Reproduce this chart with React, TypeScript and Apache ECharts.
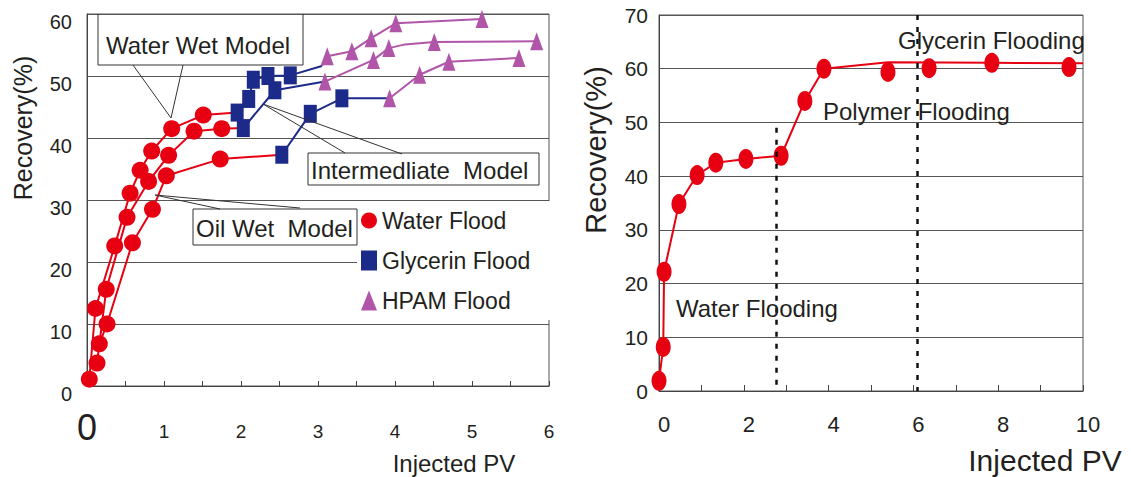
import React, { useEffect, useRef } from 'react';
import * as echarts from 'echarts';

const RED = '#e60012';
const BLUE = '#1c2a8a';
const PURPLE = '#b055a8';
const INK = '#231f20';
const FRAME = '#555555';
const FONT = 'Liberation Sans, Arial, sans-serif';

// ---------- left panel: [injected PV, recovery %] ----------
const waterWetWater = [[0.03, 1.1], [0.11, 12.5], [0.36, 22.6], [0.56, 31.1], [0.69, 34.8], [0.84, 37.9], [1.10, 41.5], [1.51, 43.7]];
const interWater = [[0.13, 3.7], [0.25, 15.6], [0.52, 27.2], [0.80, 33.0], [1.06, 37.2], [1.39, 41.1], [1.75, 41.5]];
const oilWater = [[0.16, 6.8], [0.26, 10.0], [0.59, 23.1], [0.85, 28.5], [1.03, 33.9], [1.73, 36.6]];

const waterWetGly = [[1.95, 44.1], [2.10, 46.3], [2.16, 49.4], [2.35, 50.0], [2.64, 50.1]];
const interGly = [[2.03, 41.6], [2.44, 47.7]];
const oilGly = [[2.53, 37.3], [2.90, 43.9], [3.31, 46.4]];

const waterWetHpam = [[3.12, 53.2], [3.44, 54.0], [3.69, 56.1], [4.01, 58.5], [5.13, 59.2]];
const interHpam = [[3.09, 49.1], [3.72, 52.6], [3.92, 54.5], [4.51, 55.5], [5.84, 55.6]];
const oilHpam = [[3.93, 46.4], [4.32, 50.2], [4.70, 52.3], [5.61, 52.9]];

// connecting points drawn without a marker
const waterWetGlyToHpam = [3.05, 51.6];
const interHpamBend = [4.13, 55.1];

const leftXTicks = [0, 1, 2, 3, 4, 5, 6];

// ---------- right panel ----------
const rightDots = [[0, 1.9], [0.1, 8.2], [0.12, 22.2], [0.47, 34.8], [0.9, 40.2], [1.34, 42.5], [2.05, 43.2], [2.88, 43.8], [3.44, 54.0], [3.89, 60.0], [5.4, 59.4], [6.37, 60.1], [7.85, 61.1], [9.67, 60.3]];
const rightLine = [[0, 1.9], [0.1, 8.2], [0.12, 22.2], [0.47, 34.8], [0.9, 40.2], [1.34, 42.5], [2.05, 43.2], [2.88, 43.8], [3.44, 54.0], [3.89, 60.0], [5.4, 61.2], [7.85, 61.1], [10, 61.0]];
const stageBounds = [2.76, 6.1];
const stageBoundTops = [49, 70];

const legendNames = ['Water Flood', 'Glycerin Flood', 'HPAM Flood'];

const hide = (p: number[]) => ({ value: p, symbol: 'none' });

function lineSeries(name: string, color: string, symbol: string, size: any, data: any[]) {
  return {
    type: 'line',
    name,
    xAxisIndex: 0,
    yAxisIndex: 0,
    data,
    symbol,
    symbolSize: size,
    itemStyle: { color },
    lineStyle: { color, width: 2 },
    z: symbol === 'circle' ? 3 : 4,
  };
}

const txt = (text: string, x: number, y: number, size: number, extra: any = {}) => ({
  type: 'text',
  x,
  y,
  z: 20,
  style: { text, fontSize: size, fontFamily: FONT, fill: INK, verticalAlign: 'middle', align: 'left', ...extra },
});
const stroke = { stroke: '#333', lineWidth: 1, fill: 'none' };

const option: any = {
  animation: false,
  backgroundColor: '#fff',
  textStyle: { fontFamily: FONT },
  grid: [
    { left: 87, top: 14, width: 462, height: 372, show: true, borderColor: FRAME, borderWidth: 1 },
    { left: 659, top: 15, width: 424, height: 376, show: true, borderColor: FRAME, borderWidth: 1 },
  ],
  xAxis: [
    {
      gridIndex: 0, type: 'value', min: 0, max: 6, interval: 0.5,
      axisLine: { lineStyle: { color: '#444' } },
      axisTick: { inside: true, length: 5, lineStyle: { color: '#444' } },
      splitLine: { show: false },
      axisLabel: {
        margin: 23, color: INK,
        formatter: (v: number) => (v === 0 ? '{big|0}' : leftXTicks.includes(v) ? `{n|${v}}` : ''),
        rich: {
          big: { fontSize: 36, color: INK, fontFamily: FONT },
          n: { fontSize: 19, color: INK, fontFamily: FONT, padding: [13, 0, 0, 0] },
        },
      },
    },
    {
      gridIndex: 1, type: 'value', min: 0, max: 10, interval: 1,
      axisLine: { lineStyle: { color: '#444' } },
      axisTick: { inside: true, length: 6, lineStyle: { color: '#444' } },
      splitLine: { show: false },
      axisLabel: {
        margin: 22, color: INK, fontSize: 22, padding: [0, 0, 0, 10],
        formatter: (v: number) => (v % 2 === 0 ? String(v) : ''),
      },
    },
  ],
  yAxis: [
    {
      gridIndex: 0, type: 'value', min: 0, max: 60, interval: 10,
      axisLine: { show: true, lineStyle: { color: '#444' } },
      axisTick: { show: false },
      splitLine: { lineStyle: { color: FRAME, width: 1 } },
      axisLabel: { margin: 15, fontSize: 20, color: INK, verticalAlign: 'top', lineHeight: 16 },
    },
    {
      gridIndex: 1, type: 'value', min: 0, max: 70, interval: 10,
      axisLine: { show: true, lineStyle: { color: '#444' } },
      axisTick: { show: false },
      splitLine: { lineStyle: { color: FRAME, width: 1 } },
      axisLabel: { margin: 11, fontSize: 21, color: INK },
    },
  ],
  legend: {
    data: [
      { name: legendNames[0], icon: 'circle' },
      { name: legendNames[1], icon: 'rect' },
      { name: legendNames[2], icon: 'triangle' },
    ],
    orient: 'vertical',
    left: 357,
    top: 201,
    itemWidth: 16,
    itemHeight: 20,
    itemGap: 17,
    padding: [8, 36, 8, 4],
    backgroundColor: '#fff',
    selectedMode: false,
    textStyle: { fontSize: 23, color: INK, fontFamily: FONT },
  },
  series: [
    lineSeries(legendNames[0], RED, 'circle', 17, [...waterWetWater, hide(waterWetGly[0])]),
    lineSeries(legendNames[0], RED, 'circle', 17, [...interWater, hide(interGly[0])]),
    lineSeries(legendNames[0], RED, 'circle', 17, [...oilWater, hide(oilGly[0])]),
    lineSeries(legendNames[1], BLUE, 'rect', [13, 18], [...waterWetGly, hide(waterWetGlyToHpam)]),
    lineSeries(legendNames[1], BLUE, 'rect', [13, 18], [...interGly, hide(interHpam[0])]),
    lineSeries(legendNames[1], BLUE, 'rect', [13, 18], [...oilGly, hide(oilHpam[0])]),
    lineSeries(legendNames[2], PURPLE, 'triangle', [13, 18], [hide(waterWetGlyToHpam), ...waterWetHpam]),
    lineSeries(legendNames[2], PURPLE, 'triangle', [13, 18], [...interHpam.slice(0, 3), hide(interHpamBend), ...interHpam.slice(3)]),
    lineSeries(legendNames[2], PURPLE, 'triangle', [13, 18], oilHpam),
    {
      type: 'line',
      name: 'Recovery curve',
      xAxisIndex: 1,
      yAxisIndex: 1,
      data: rightLine,
      symbol: 'none',
      lineStyle: { color: RED, width: 2 },
      itemStyle: { color: RED },
      z: 3,
      markLine: {
        silent: true,
        symbol: 'none',
        label: { show: false },
        lineStyle: { color: '#111', width: 2.5, type: [5, 7] },
        data: stageBounds.map((x, i) => [{ coord: [x, stageBoundTops[i]] }, { coord: [x, 0] }]),
      },
    },
    {
      type: 'scatter',
      name: 'Recovery points',
      xAxisIndex: 1,
      yAxisIndex: 1,
      data: rightDots,
      symbol: 'circle',
      symbolSize: [15, 20],
      itemStyle: { color: RED, opacity: 1 },
      z: 4,
    },
  ],
  graphic: [
    { ...txt('Recovery(%)', 0, 0, 25, { align: 'center' }), x: 23, y: 128, rotation: Math.PI / 2 },
    txt('Injected PV', 454, 463, 24, { align: 'center' }),
    { type: 'polyline', z: 20, shape: { points: [[98, 14], [98, 65], [303, 65], [303, 14]] }, style: stroke },
    { type: 'polyline', z: 20, shape: { points: [[133, 65], [171, 118], [183, 65]] }, style: stroke },
    txt('Water Wet Model', 106, 45, 24),
    { type: 'rect', z: 19, shape: { x: 308, y: 153, width: 231, height: 32 }, style: { fill: '#fff', stroke: '#333', lineWidth: 1 } },
    { type: 'polyline', z: 20, shape: { points: [[345, 153], [263, 104], [402, 154]] }, style: stroke },
    txt('Intermedliate  Model', 311, 170, 24),
    { type: 'rect', z: 19, shape: { x: 193, y: 209, width: 164, height: 36 }, style: { fill: '#fff', stroke: '#333', lineWidth: 1 } },
    { type: 'polyline', z: 20, shape: { points: [[220, 209], [155, 195], [300, 208]] }, style: stroke },
    txt('Oil Wet  Model', 196, 228, 24),
    { ...txt('Recovery(%)', 0, 0, 29, { align: 'center' }), x: 596, y: 150, rotation: Math.PI / 2 },
    txt('Injected PV', 1045, 460, 30, { align: 'center' }),
    txt('Water Flooding', 676, 308, 24),
    txt('Polymer Flooding', 823, 111, 24),
    txt('Glycerin Flooding', 898, 40, 24),
  ],
};

export default function App() {
  const ref = useRef<HTMLDivElement>(null);
  useEffect(() => {
    const chart = echarts.init(ref.current as HTMLDivElement, null, { renderer: 'svg' });
    chart.setOption(option);
    return () => chart.dispose();
  }, []);
  return (
    <div
      ref={ref}
      style={{ position: 'fixed', left: 0, top: 0, width: 1131, height: 477, background: '#fff' }}
    />
  );
}
